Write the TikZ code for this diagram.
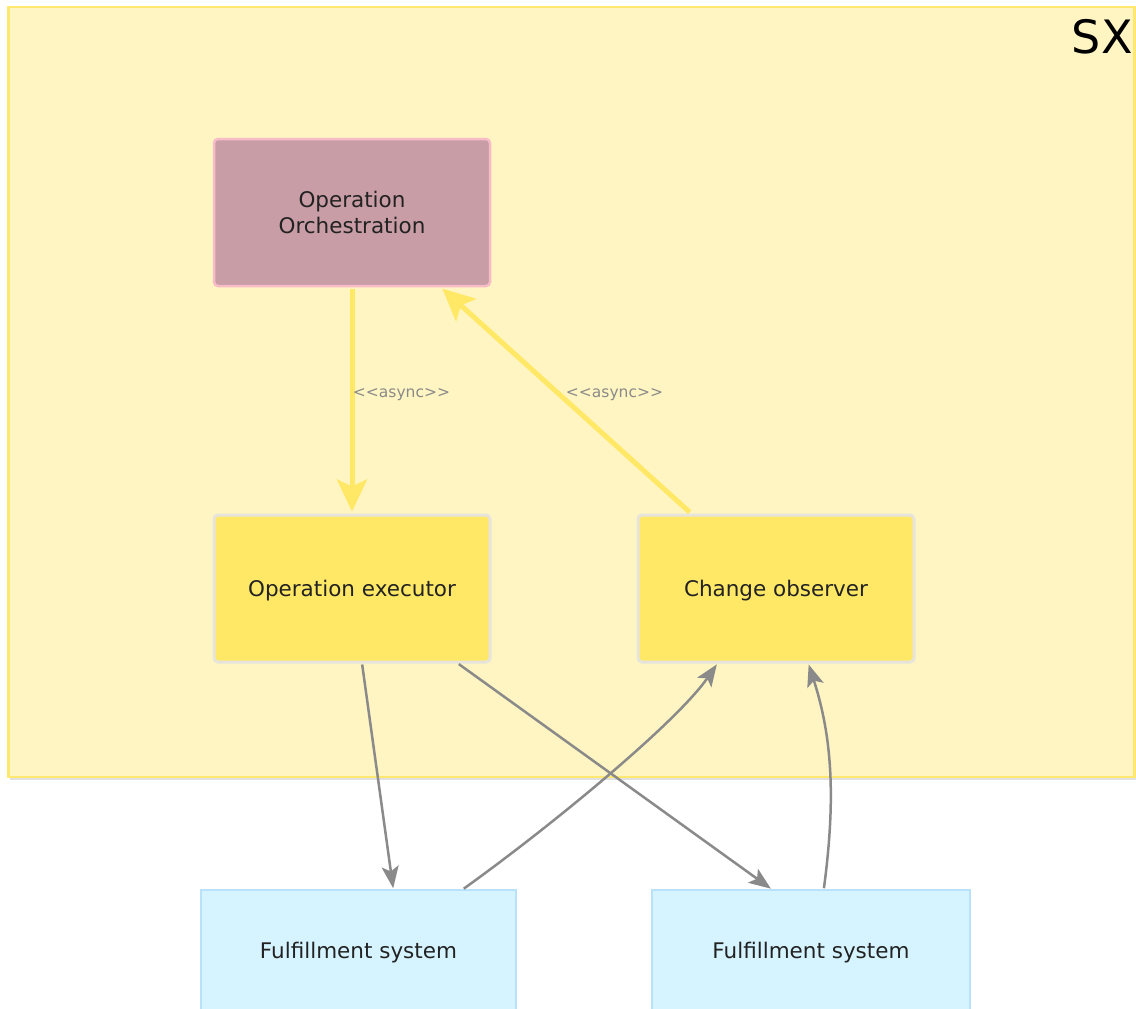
\documentclass[tikz,border=0pt]{standalone}
\usepackage{fontspec}
\setmainfont{DejaVu Sans}
\usetikzlibrary{calc,arrows.meta}
\definecolor{framefill}{HTML}{FFF5C2}
\definecolor{framedraw}{HTML}{FFE870}
\definecolor{orchfill}{HTML}{C89DA6}
\definecolor{orchdraw}{HTML}{F8BBC8}
\definecolor{compfill}{HTML}{FFE866}
\definecolor{compdraw}{HTML}{E6E4DC}
\definecolor{extfill}{HTML}{D5F4FF}
\definecolor{extdraw}{HTML}{B9E2FA}
\definecolor{linkgray}{HTML}{8A8A8A}
\definecolor{asyncyellow}{HTML}{FFE866}
\definecolor{txt}{HTML}{222222}
\newcommand{\asynctxt}{<\kern0pt<\kern0pt async>\kern0pt>}
\tikzset{
  basebox/.style={rectangle, inner sep=0pt, align=center, text=txt,
    font=\fontsize{21.5}{26}\selectfont},
  orchbox/.style={basebox, fill=orchfill, draw=orchdraw, line width=2.5pt, rounded corners=4pt},
  compbox/.style={basebox, fill=compfill, draw=compdraw, line width=3pt, rounded corners=4pt,
    text depth=0pt},
  extbox/.style={basebox, fill=extfill, draw=extdraw, line width=1.5pt, text depth=0pt},
  asynclink/.style={draw=asyncyellow, line width=5pt,
    -{Stealth[length=32pt,width=30pt,inset=7pt]}, shorten >=2pt, shorten <=2pt},
  graylink/.style={draw=linkgray, line width=2.5pt,
    -{Stealth[length=22pt,width=17pt,inset=5pt]}, shorten >=1pt, shorten <=1pt},
  asynclabel/.style={text=linkgray, font=\fontsize{15.5}{18}\selectfont, inner sep=0pt},
}
\begin{document}
\begin{tikzpicture}[x=1pt,y=-1pt]
\useasboundingbox (0,0) rectangle (1136,1009);
\clip (0,0) rectangle (1136,1009);
% frame with faint shadow
\fill[black!12] (10,9) rectangle (1138,780);
\node[rectangle, fill=framefill, draw=framedraw, line width=2.5pt,
  minimum width=1126pt, minimum height=770pt, inner sep=0pt] (frame) at (571.5,392) {};
\node[anchor=north east, inner sep=0pt, text=black,
  font=\fontsize{46}{50}\selectfont] (sx) at ($(frame.north east)+(-3,13)$) {SX};

% components
\node[orchbox, minimum width=276pt, minimum height=147pt] (orch) at (352,212.5)
  {Operation\\Orchestration};
\node[compbox, minimum width=276pt, minimum height=147pt] (exec) at (352,588.5)
  {Operation executor};
\node[compbox, minimum width=276pt, minimum height=147pt] (obs) at (776,588.5)
  {Change observer};
\node[extbox, minimum width=315pt, minimum height=120pt] (ful1) at (358.5,950)
  {Fulfillment system};
\node[extbox, minimum width=318pt, minimum height=120pt] (ful2) at (811,950)
  {Fulfillment system};

% anchor points
\coordinate (o1) at ($(orch.south west)!0.5!(orch.south east)$);
\coordinate (o2) at ($(orch.south west)!0.819!(orch.south east)$);
\coordinate (e0) at ($(exec.north west)!0.5!(exec.north east)$);
\coordinate (b0) at ($(obs.north west)!0.196!(obs.north east)$);
\coordinate (e1) at ($(exec.south west)!0.536!(exec.south east)$);
\coordinate (e2) at ($(exec.south west)!0.88!(exec.south east)$);
\coordinate (b1) at ($(obs.south west)!0.29!(obs.south east)$);
\coordinate (b2) at ($(obs.south west)!0.616!(obs.south east)$);
\coordinate (f1a) at ($(ful1.north west)!0.61!(ful1.north east)$);
\coordinate (f1b) at ($(ful1.north west)!0.83!(ful1.north east)$);
\coordinate (f2a) at ($(ful2.north west)!0.377!(ful2.north east)$);
\coordinate (f2b) at ($(ful2.north west)!0.54!(ful2.north east)$);

% async links
\draw[asynclink] (o1) -- (e0);
\draw[asynclink] (b0) -- (o2);
\node[asynclabel] (l1) at (401.5,395) {\asynctxt};
\node[asynclabel] (l2) at (614.5,395) {\asynctxt};

% gray links
\draw[graylink] (e1) -- (f1a);
\draw[graylink] (e2) -- (f2a);
\draw[graylink] (f1b) .. controls +(92,-66) and +(-40,58) .. (b1);
\draw[graylink] (f2b) .. controls +(12,-90) and +(24,74) .. (b2);
\end{tikzpicture}
\end{document}
